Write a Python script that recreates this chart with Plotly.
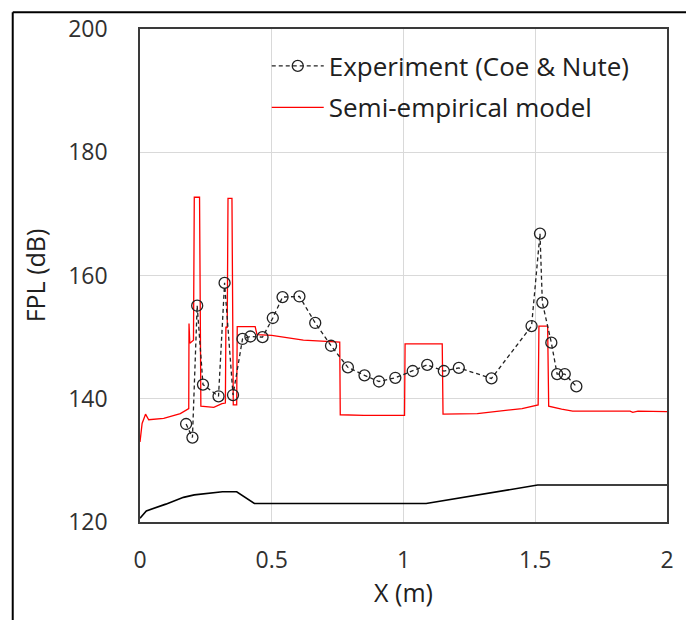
import plotly.graph_objects as go

# Measured fluctuating pressure levels (Coe & Nute)
exp_x = [0.175, 0.199, 0.217, 0.239, 0.298, 0.321, 0.353, 0.389, 0.419, 0.465,
         0.504, 0.541, 0.605, 0.665, 0.725, 0.789, 0.852, 0.907, 0.969, 1.035,
         1.090, 1.153, 1.210, 1.334, 1.486, 1.518, 1.527, 1.561, 1.583, 1.612, 1.656]
exp_fpl = [135.9, 133.7, 155.1, 142.3, 140.4, 158.8, 140.6, 149.7, 150.1, 150.0,
           153.1, 156.5, 156.6, 152.3, 148.6, 145.1, 143.8, 142.8, 143.4, 144.5,
           145.5, 144.5, 145.0, 143.3, 151.8, 166.8, 155.6, 149.1, 144.0, 144.0, 142.0]

# Semi-empirical model prediction
model_x = [0.000, 0.008, 0.021, 0.033, 0.090, 0.153, 0.185, 0.186, 0.189, 0.203,
           0.206, 0.226, 0.231, 0.280, 0.311, 0.324, 0.326, 0.331, 0.334, 0.349,
           0.354, 0.367, 0.369, 0.437, 0.444, 0.500, 0.620, 0.700, 0.758, 0.760,
           0.850, 1.004, 1.006, 1.147, 1.150, 1.280, 1.370, 1.450, 1.511, 1.514,
           1.547, 1.551, 1.600, 1.642, 1.860, 1.870, 1.890, 2.000]
model_fpl = [133.0, 136.0, 137.5, 136.6, 136.8, 137.6, 138.4, 152.2, 149.0, 149.5,
             172.7, 172.7, 138.8, 138.6, 139.2, 139.3, 151.7, 151.5, 172.5, 172.5,
             139.0, 139.0, 151.7, 151.7, 150.4, 150.3, 149.5, 149.3, 149.2, 137.4,
             137.3, 137.3, 148.9, 148.9, 137.5, 137.6, 138.0, 138.4, 139.0, 151.8,
             151.8, 138.8, 138.3, 138.0, 138.0, 137.8, 138.0, 137.9]

# Body profile outline (scaled into the dB axis)
geom_x = [0.000, 0.024, 0.098, 0.165, 0.206, 0.313, 0.367, 0.434, 1.086, 1.509, 2.000]
geom_y = [120.6, 121.8, 122.9, 124.0, 124.4, 124.9, 124.9, 123.0, 123.0, 126.0, 126.0]

FONT = "Open Sans"
TEXT_COLOR = "#202020"

fig = go.Figure()

fig.add_trace(go.Scatter(
    x=geom_x, y=geom_y, mode="lines",
    line=dict(color="black", width=1.6),
    showlegend=False, hoverinfo="skip"))

fig.add_trace(go.Scatter(
    x=model_x, y=model_fpl, mode="lines",
    name="Semi-empirical model",
    line=dict(color="#ff0000", width=1.3),
    legend="legend2"))

fig.add_trace(go.Scatter(
    x=exp_x, y=exp_fpl, mode="lines+markers",
    name="Experiment (Coe & Nute)",
    line=dict(color="#222222", width=1.3, dash="4px,3px"),
    marker=dict(symbol="circle-open", size=11, color="#222222",
                line=dict(width=1.3)),
    legend="legend"))

axis_common = dict(
    showgrid=True, gridcolor="#d9d9d9", gridwidth=1,
    showline=True, linecolor="#3a3a3a", linewidth=1.6, mirror=True,
    zeroline=False, ticks="",
    tickfont=dict(family=FONT, size=23, color="#303030"),
)

legend_common = dict(xanchor="left", yanchor="middle",
                     bgcolor="rgba(0,0,0,0)", borderwidth=0, itemwidth=52,
                     font=dict(family=FONT, size=26, color=TEXT_COLOR))

fig.update_layout(
    width=686, height=620, autosize=False,
    margin=dict(l=140, r=18, t=21, b=98),
    paper_bgcolor="white", plot_bgcolor="white",
    xaxis=dict(range=[0, 2], tickvals=[0, 0.5, 1, 1.5, 2],
               ticktext=["0", "0.5", "1", "1.5", "2"],
               ticklabelstandoff=17,
               title=dict(text="X (m)", font=dict(family=FONT, size=25, color=TEXT_COLOR),
                          standoff=9),
               **axis_common),
    yaxis=dict(range=[120, 200], tickvals=[120, 140, 160, 180, 200],
               ticklabelstandoff=26,
               title=dict(text="FPL (dB)", font=dict(family=FONT, size=25, color=TEXT_COLOR),
                          standoff=15),
               **axis_common),
    legend=dict(x=0.2405, y=0.925, **legend_common),
    legend2=dict(x=0.2405, y=0.841, **legend_common),
    showlegend=True,
)

# Outer frame around the figure
frame = dict(type="line", xref="paper", yref="paper",
             line=dict(color="black", width=2), layer="above")
fig.add_shape(x0=-0.2415, x1=-0.2415, y0=1.0339, y1=-0.25, **frame)
fig.add_shape(x0=-0.2415, x1=1.05, y0=1.0339, y1=1.0339, **frame)

fig.write_html("out.html")
